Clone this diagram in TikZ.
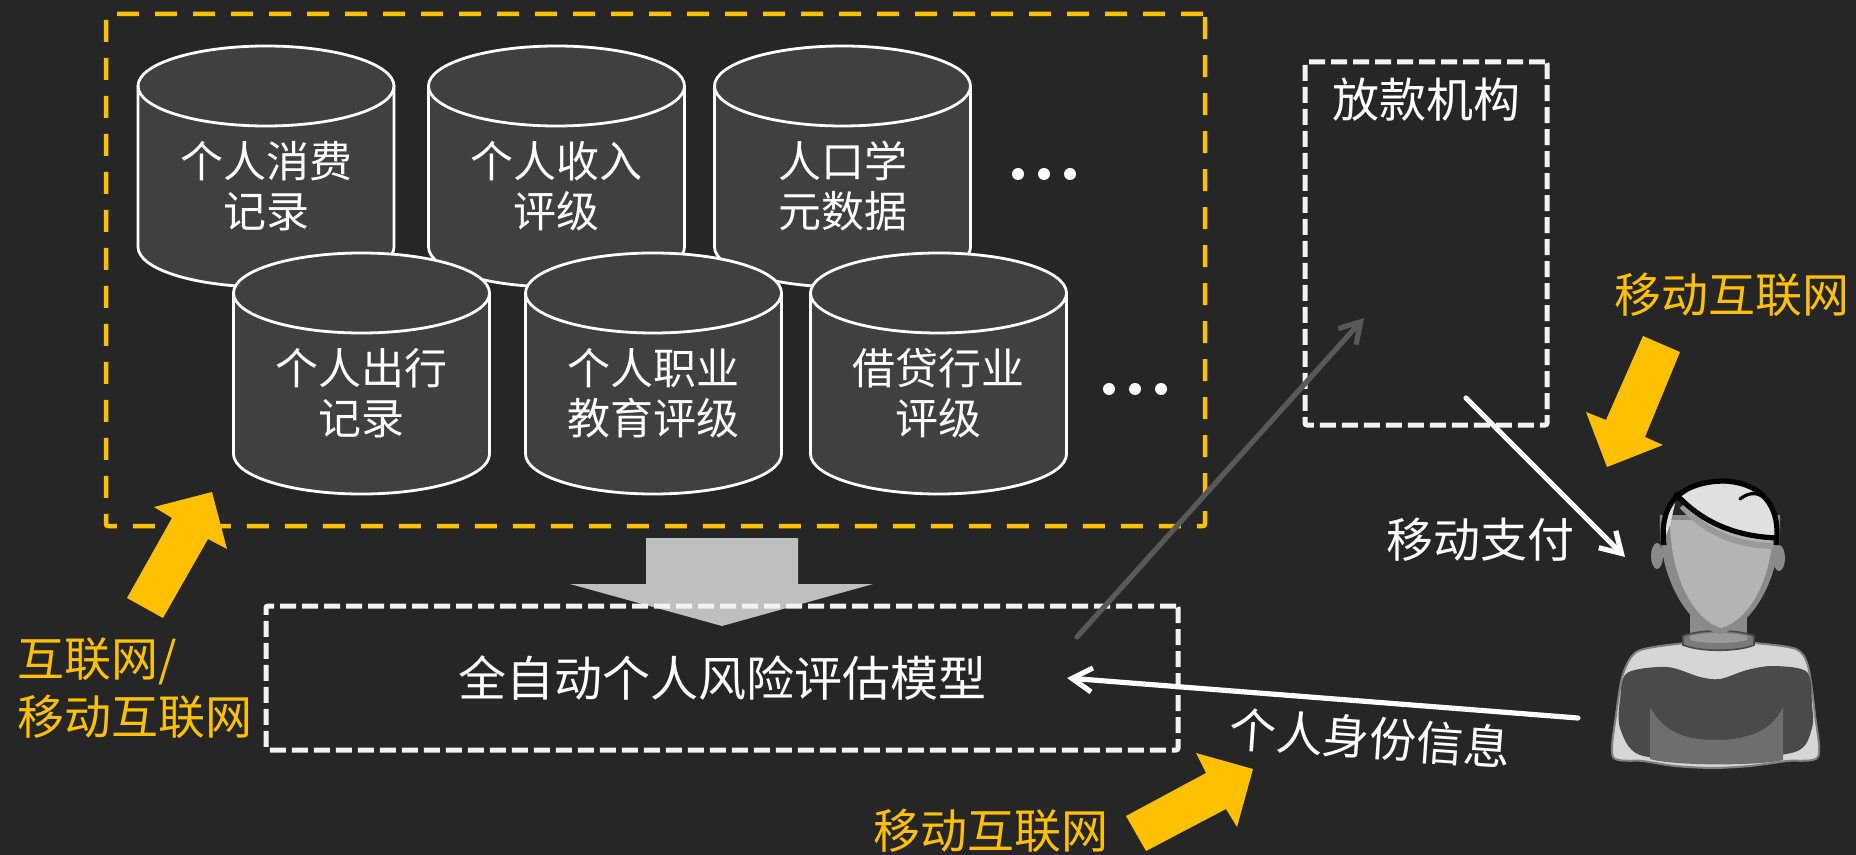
\documentclass[tikz,border=0pt]{standalone}
\usepackage{fontspec}
\setmainfont{Noto Sans CJK SC}
\usetikzlibrary{arrows.meta}

\definecolor{bg}{HTML}{262626}
\definecolor{cylfill}{HTML}{404040}
\definecolor{amber}{HTML}{FFC000}
\definecolor{bigarrow}{HTML}{BFBFBF}
\definecolor{linkgray}{HTML}{595959}
\definecolor{dashwhite}{HTML}{F2F2F2}
\definecolor{plight}{HTML}{D6D6D6}
\definecolor{poutline}{HTML}{7F7F7F}
\definecolor{pdark}{HTML}{4A4A4A}
\definecolor{pmid}{HTML}{6E6E6E}
\definecolor{pneck}{HTML}{8C8C8C}
\definecolor{pcollar}{HTML}{7A7A7A}
\definecolor{prim}{HTML}{8A8A8A}
\definecolor{pface}{HTML}{B4B4B4}
\definecolor{pshade}{HTML}{9A9A9A}
\definecolor{phair}{HTML}{E0E0E0}

\tikzset{
  cylbody/.style={fill=cylfill, draw=white, line width=1.4pt},
  cyltext/.style={text=white, align=center, font=\fontsize{21.5pt}{25pt}\selectfont},
  whitelabel/.style={text=white, font=\fontsize{23.5pt}{28pt}\selectfont},
  amberlabel/.style={text=amber, font=\fontsize{23.5pt}{29pt}\selectfont},
  groupframe/.style={draw=amber, line width=2.25pt, dash pattern=on 11pt off 8pt, rounded corners=1pt, inner sep=0pt},
  boxframe/.style={draw=dashwhite, line width=2.5pt, dash pattern=on 8pt off 3pt, rounded corners=1pt, inner sep=0pt},
  flowarrow/.style={-{Straight Barb[length=10pt,width=12pt]}, line width=2.6pt, line cap=round},
  blockarrow/.style={fill=amber},
  dot/.style={fill=white},
}

% database cylinder: name, centre x, top-ellipse centre y, label
\newcommand\datacyl[4]{%
  \filldraw[cylbody] ({#2-128},#3) -- ({#2-128},{#3+161})
     arc[start angle=180, end angle=0, x radius=128, y radius=40]
     -- ({#2+128},#3)
     arc[start angle=0, end angle=-180, x radius=128, y radius=40] -- cycle;
  \draw[cylbody, fill=none] ({#2-128},#3)
     arc[start angle=180, end angle=0, x radius=128, y radius=40];
  \node[cyltext] (#1) at (#2,{#3+100.5}) {#4};
}

\begin{document}
\begin{tikzpicture}[x=0.5pt, y=-0.5pt]
\useasboundingbox (0,0) rectangle (1856,855);
\fill[bg] (0,0) rectangle (1856,855);

% data sources frame
\node[groupframe, minimum width=549.5pt, minimum height=256pt] (sources) at (655.5,270) {};

% first row of databases
\datacyl{spend}{266}{86}{个人消费\\记录}
\datacyl{income}{556.5}{86}{个人收入\\评级}
\datacyl{demo}{842.5}{86}{人口学\\元数据}
% second row of databases
\datacyl{travel}{361.5}{293}{个人出行\\记录}
\datacyl{career}{653.5}{293}{个人职业\\教育评级}
\datacyl{credit}{938.5}{293}{借贷行业\\评级}

% ellipsis dots
\foreach \x/\y in {1018/174, 1044/174, 1070/174, 1109/389, 1135/389, 1161/389}
  \fill[dot] (\x,\y) circle[radius=6];

% big downward arrow into the model
\fill[bigarrow] (646,538) -- (798,538) -- (798,584) -- (873,584) -- (722,626)
  -- (570,584) -- (646,584) -- cycle;

% risk model and lender
\node[boxframe, minimum width=456pt, minimum height=72pt, text=white,
      font=\fontsize{24pt}{28pt}\selectfont] (model) at (722,678) {全自动个人风险评估模型};
\node[boxframe, minimum width=121pt, minimum height=181.5pt] (lender) at (1426,243.5) {};
\node[whitelabel] (lendertitle) at (1426,100) {放款机构};

% flows
\coordinate (modelout) at (1077,637);
\coordinate (lenderin) at (1364,318);
\draw[flowarrow, linkgray] (modelout) -- (lenderin);

\coordinate (payfrom) at (1466,398);
\coordinate (payto) at (1625,557);
\draw[flowarrow, white] (payfrom) -- (payto);
\node[whitelabel] (paylabel) at (1480,540) {移动支付};

\coordinate (idfrom) at (1578,718);
\coordinate (idto) at (1067,678);
\draw[flowarrow, white] (idfrom) -- (idto);
\node[whitelabel, rotate=-4] (idlabel) at (1370,738) {个人身份信息};

% network channels
\fill[blockarrow] (127,598) -- (172,518) -- (154,507) -- (212,492) -- (227,549)
  -- (208,539) -- (163,618) -- cycle;
\node[amberlabel, anchor=west, align=left] (weblabel) at (10,688) {互联网/\\移动互联网};

\fill[blockarrow] (1643,336) -- (1680,352) -- (1645,437) -- (1663,445) -- (1607,467)
  -- (1586,412) -- (1606,420) -- cycle;
\node[amberlabel] (mobiletop) at (1732,295) {移动互联网};

\fill[blockarrow] (1126,816) -- (1206,773) -- (1196,753) -- (1253,769) -- (1237,827)
  -- (1226,809) -- (1146,851) -- cycle;
\node[amberlabel] (mobilebottom) at (991,831) {移动互联网};

% user figure
\coordinate (user) at (1720,600);
% torso
\filldraw[fill=plight, draw=poutline, line width=1pt] plot[smooth cycle, tension=0.45] coordinates
  {(1613,757) (1616,715) (1623,674) (1638,651) (1685,643) (1720,641) (1755,643) (1796,649) (1808,666) (1815,715) (1818,757) (1787,761) (1750,766) (1713,768) (1675,766) (1643,761)};
\fill[pdark] plot[smooth cycle, tension=0.5] coordinates
  {(1627,673) (1667,667) (1700,677) (1720,679) (1747,670) (1773,666) (1807,672) (1812,705) (1812,728) (1795,752) (1713,760) (1640,755) (1620,728) (1620,700)};
\fill[pmid] (1650,707) .. controls (1665,735) and (1690,740) .. (1716,740)
  .. controls (1745,740) and (1772,732) .. (1783,707) -- (1783,760)
  .. controls (1760,766) and (1672,766) .. (1650,759) -- cycle;
% neck and collar
\fill[pneck] (1690,615) rectangle (1747,640);
\filldraw[fill=pcollar, draw=pdark, line width=0.8pt] (1683,636) .. controls (1700,629) and (1738,629) .. (1754,636)
  -- (1754,645) .. controls (1738,652) and (1700,652) .. (1683,645) -- cycle;
\fill[pshade] (1690,636) .. controls (1705,632) and (1732,632) .. (1747,636)
  -- (1747,640) .. controls (1732,644) and (1705,644) .. (1690,640) -- cycle;
% ears
\fill[prim] (1657,556) ellipse[x radius=6, y radius=13];
\fill[prim] (1779,558) ellipse[x radius=6, y radius=13];
% face
\fill[prim] (1660,515) .. controls (1657,580) and (1690,628) .. (1720,634)
  .. controls (1750,628) and (1783,580) .. (1780,515) -- cycle;
\fill[pface] (1670,520) .. controls (1670,580) and (1696,621) .. (1721,628)
  .. controls (1748,621) and (1774,580) .. (1773,520) -- cycle;
% hair shadow on the forehead
\draw[pshade, line width=3pt] (1682,506) .. controls (1700,526) and (1727,545) .. (1774,546);
% hair
\fill[phair] (1663,543) .. controls (1658,500) and (1685,482) .. (1723,481)
  .. controls (1760,482) and (1782,505) .. (1776,543)
  -- (1776,538) .. controls (1725,536) and (1695,515) .. (1677,495)
  -- (1670,525) -- cycle;
\draw[black, line width=2.6pt] (1664,545) .. controls (1658,500) and (1685,482) .. (1723,481)
  .. controls (1760,482) and (1782,505) .. (1776,545);
\draw[black, line width=2.6pt] (1675,493) .. controls (1695,515) and (1725,536) .. (1777,538);
\draw[black, line width=1.6pt, line cap=round] (1740,499) .. controls (1750,491) and (1760,492) .. (1767,501);
\end{tikzpicture}
\end{document}
